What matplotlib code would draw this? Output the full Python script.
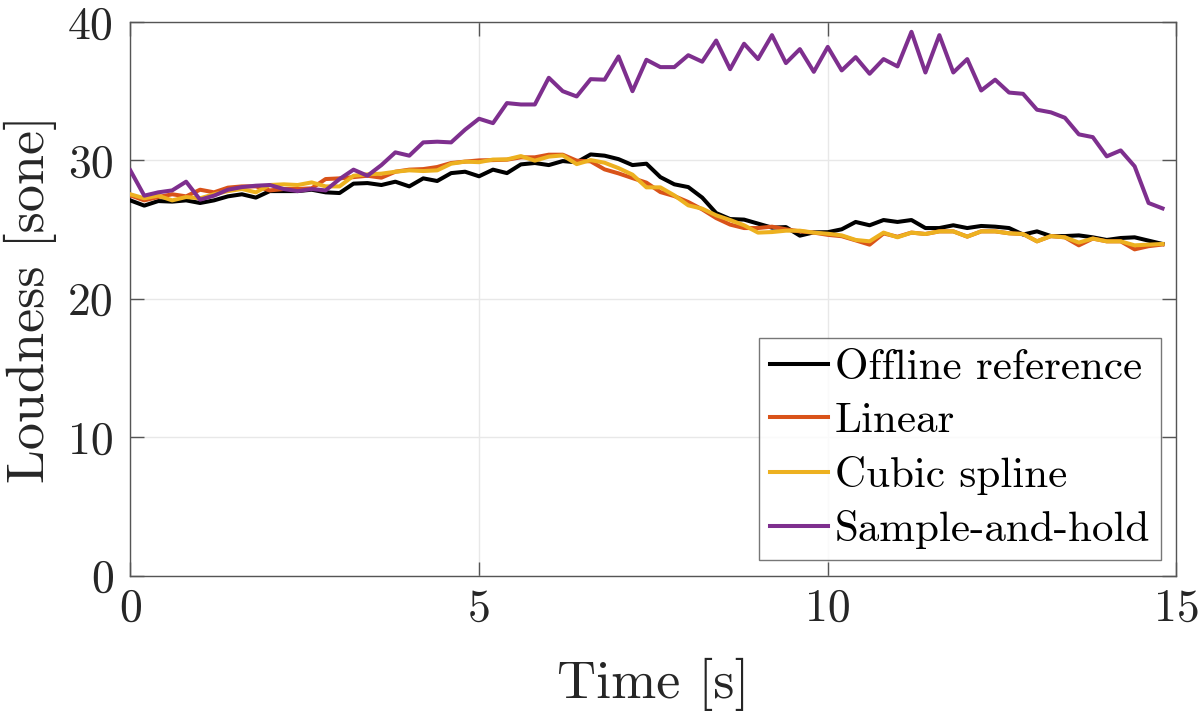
import numpy as np
import matplotlib
matplotlib.use("Agg")
import matplotlib.pyplot as plt

# time axis: 0 to 14.8 s, step 0.2 s
time_s = np.round(np.arange(75) * 0.2, 1)

offline_reference = [
    27.11, 26.73, 27.06, 27.02, 27.11, 26.92, 27.11, 27.40, 27.55, 27.31,
    27.78, 27.78, 27.78, 27.88, 27.69, 27.64, 28.32, 28.36, 28.22, 28.46,
    28.12, 28.70, 28.51, 29.08, 29.18, 28.85, 29.33, 29.08, 29.71, 29.81,
    29.66, 29.95, 29.86, 30.43, 30.34, 30.09, 29.66, 29.76, 28.79, 28.27,
    28.07, 27.31, 26.19, 25.76, 25.72, 25.43, 25.14, 25.18, 24.56, 24.80,
    24.81, 25.02, 25.55, 25.31, 25.69, 25.55, 25.69, 25.11, 25.11, 25.31,
    25.11, 25.26, 25.21, 25.11, 24.64, 24.87, 24.53, 24.53, 24.58, 24.44,
    24.25, 24.39, 24.44, 24.20, 23.96,
]

linear = [
    27.47, 27.11, 27.35, 27.55, 27.40, 27.88, 27.69, 28.03, 28.12, 28.12,
    27.83, 27.93, 27.93, 27.98, 28.65, 28.70, 28.79, 28.89, 28.75, 29.18,
    29.33, 29.37, 29.52, 29.81, 29.91, 30.00, 30.02, 30.05, 30.22, 30.22,
    30.41, 30.41, 29.98, 29.93, 29.35, 29.06, 28.72, 28.39, 27.71, 27.42,
    26.99, 26.46, 25.83, 25.36, 25.11, 25.11, 25.21, 25.02, 24.87, 24.78,
    24.62, 24.52, 24.22, 23.91, 24.72, 24.48, 24.78, 24.68, 24.87, 24.87,
    24.49, 24.87, 24.87, 24.73, 24.68, 24.15, 24.53, 24.44, 23.86, 24.35,
    24.15, 24.15, 23.57, 23.80, 23.92,
]

cubic_spline = [
    27.55, 27.26, 27.45, 27.11, 27.35, 27.26, 27.55, 27.78, 27.93, 27.69,
    28.22, 28.27, 28.22, 28.41, 28.12, 28.12, 28.89, 28.99, 29.04, 29.18,
    29.28, 29.23, 29.28, 29.76, 29.91, 29.87, 30.06, 30.07, 30.31, 29.98,
    30.27, 30.36, 29.73, 30.02, 29.83, 29.44, 28.97, 28.05, 28.05, 27.47,
    26.75, 26.51, 26.03, 25.69, 25.31, 24.78, 24.82, 24.92, 24.92, 24.78,
    24.70, 24.58, 24.25, 24.15, 24.78, 24.44, 24.78, 24.68, 24.87, 24.87,
    24.49, 24.87, 24.87, 24.73, 24.68, 24.15, 24.53, 24.44, 24.06, 24.35,
    24.15, 24.15, 23.86, 23.91, 23.96,
]

sample_and_hold = [
    29.28, 27.45, 27.69, 27.83, 28.46, 27.16, 27.45, 27.88, 28.07, 28.17,
    28.22, 27.93, 27.78, 27.93, 27.83, 28.65, 29.33, 28.89, 29.66, 30.58,
    30.34, 31.30, 31.35, 31.30, 32.22, 33.01, 32.69, 34.14, 34.04, 34.04,
    35.97, 35.00, 34.62, 35.87, 35.83, 37.51, 35.00, 37.27, 36.74, 36.74,
    37.60, 37.13, 38.66, 36.59, 38.43, 37.32, 39.05, 37.03, 38.04, 36.40,
    38.20, 36.50, 37.46, 36.26, 37.32, 36.79, 39.29, 36.35, 39.05, 36.35,
    37.32, 35.05, 35.83, 34.90, 34.81, 33.66, 33.47, 33.08, 31.88, 31.68,
    30.29, 30.72, 29.57, 26.92, 26.53,
]

series_names = ["Offline reference", "Linear", "Cubic spline", "Sample-and-hold"]
series_colors = ["#000000", "#D95319", "#EDB120", "#7E2F8E"]
x_ticks = [0, 5, 10, 15]
y_ticks = [0, 10, 20, 30, 40]

plt.rcParams["font.family"] = ["cmr10", "DejaVu Serif"]
plt.rcParams["mathtext.fontset"] = "cm"
plt.rcParams["axes.formatter.use_mathtext"] = True

fig = plt.figure(figsize=(12, 7.12), dpi=100)
ax = fig.add_axes([0.1086, 0.1917, 0.8718, 0.7774])

for vals, name, col in zip(
    [offline_reference, linear, cubic_spline, sample_and_hold], series_names, series_colors
):
    ax.plot(time_s, vals, color=col, lw=2.9, label=name, zorder=3)

ax.set_xlim(0, 15)
ax.set_ylim(0, 40)
ax.set_xticks(x_ticks)
ax.set_yticks(y_ticks)
ax.set_xticklabels([str(v) for v in x_ticks])
ax.set_yticklabels([str(v) for v in y_ticks])
ax.grid(True, color="#E8E8E8", lw=1.0, zorder=0)
ax.set_axisbelow(True)

axis_gray = "#262626"
for sp in ax.spines.values():
    sp.set_color("#555555")
    sp.set_linewidth(1.0)
ax.tick_params(direction="in", length=10, width=1.0, color="#555555",
               labelcolor=axis_gray, labelsize=33, top=True, right=True,
               labeltop=False, labelright=False)
ax.tick_params(axis="x", pad=9)
ax.tick_params(axis="y", pad=12)

ax.set_xlabel("Time [s]", fontsize=39, color=axis_gray, labelpad=20)
ax.set_ylabel("Loudness [sone]", fontsize=39, color=axis_gray, labelpad=8)

leg = ax.legend(loc="lower right", fontsize=31, frameon=True, fancybox=False,
                handlelength=1.35, handletextpad=0.15, borderpad=0.25,
                labelspacing=0.36, borderaxespad=0.36)
leg.get_frame().set_edgecolor("#555555")
leg.get_frame().set_linewidth(1.0)
for line in leg.get_lines():
    line.set_linewidth(2.9)

fig.savefig("out.png", dpi=100)
